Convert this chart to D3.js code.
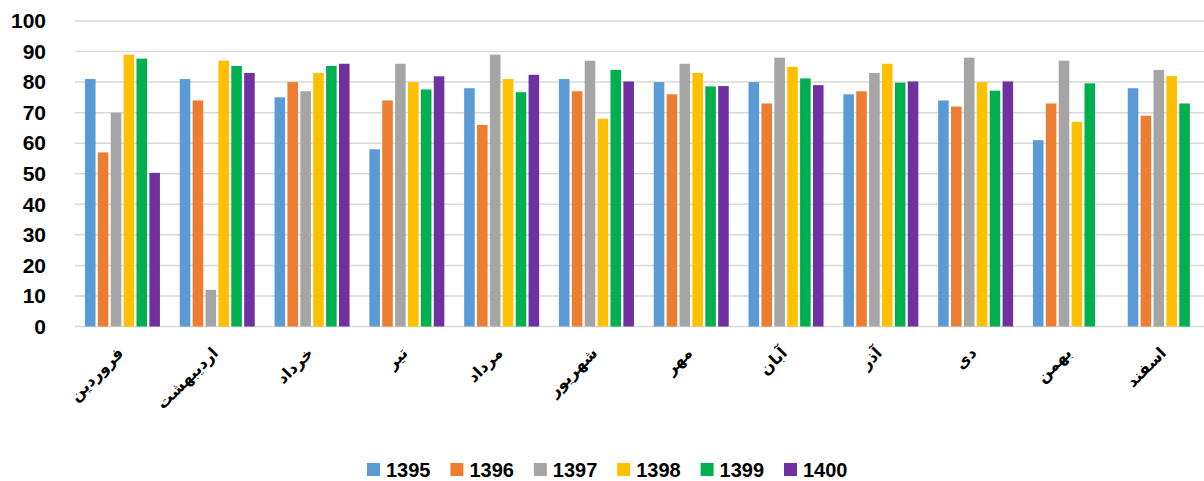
<!DOCTYPE html>
<html><head><meta charset="utf-8">
<script src="https://cdn.jsdelivr.net/npm/d3@7"></script>
<style>body{margin:0;background:#fff}svg{display:block}</style>
</head><body><svg id="c" width="1204" height="481"></svg>
<script>
const months = ["فروردین","اردیبهشت","خرداد","تیر","مرداد","شهریور","مهر","آبان","آذر","دی","بهمن","اسفند"];
const seriesNames = ["1395","1396","1397","1398","1399","1400"];
const colors = ["#5B9BD5","#ED7D31","#A5A5A5","#FFC000","#00B050","#7030A0"];
const v1395 = [81,81,75,58,78,81,80,80,76,74,61,78];
const v1396 = [57,74,80,74,66,77,76,73,77,72,73,69];
const v1397 = [70,12,77,86,89,87,86,88,83,88,87,84];
const v1398 = [89,87,83,80,81,68,83,85,86,80,67,82];
const v1399 = [87.7,85.3,85.3,77.6,76.7,84,78.6,81.2,79.8,77.2,79.6,73];
const v1400 = [50.3,83,86,81.9,82.4,80.2,78.7,79,80.2,80.2,null,null];
const yTicks = [0,10,20,30,40,50,60,70,80,90,100];
const allSeries = [v1395,v1396,v1397,v1398,v1399,v1400];

const svg = d3.select("#c");
const left = 75, step = 94.8;
const x0 = d3.scaleBand().domain(months).range([left, left + step*12.001]).paddingInner(0.209).paddingOuter(0.105);
const x1 = d3.scaleBand().domain(seriesNames).range([0, x0.bandwidth()]).paddingInner(0.18).paddingOuter(0);
const y = d3.scaleLinear().domain([0,100]).range([326.5, 21]);

// gridlines
svg.append("g").selectAll("line").data(yTicks).join("line")
  .attr("x1", left).attr("x2", 1204)
  .attr("y1", d=>y(d)).attr("y2", d=>y(d))
  .attr("stroke", "#D9D9D9").attr("stroke-width", 1.5);

// y labels
const yAxis = d3.axisLeft(y).tickValues(yTicks).tickSize(0).tickPadding(0);
const ga = svg.append("g").attr("transform","translate(46,0)").call(yAxis);
ga.select(".domain").remove();
ga.selectAll("text").attr("font-family","'Liberation Sans', Arial, sans-serif")
  .attr("font-weight","bold").attr("font-size","21px").attr("fill","#000");

// bars
const groups = svg.append("g").selectAll("g").data(months).join("g")
  .attr("transform", d=>`translate(${x0(d)},0)`);
groups.selectAll("rect").data((m,i)=>seriesNames.map((s,j)=>({s, j, v: allSeries[j][i]})).filter(d=>d.v!=null))
  .join("rect")
  .attr("x", d=>x1(d.s)).attr("width", x1.bandwidth())
  .attr("y", d=>y(d.v)).attr("height", d=>y(0)-y(d.v))
  .attr("fill", d=>colors[d.j]);

// x labels
svg.append("g").selectAll("text").data(months).join("text")
  .attr("transform", d=>`translate(${x0(d)+x0.bandwidth()/2+2},${354}) rotate(-45)`)
  .attr("text-anchor","end")
  .attr("font-family","'DejaVu Sans', sans-serif").attr("font-weight","bold").attr("font-size","16px")
  .attr("fill","#000").text(d=>d);

// legend
const lg = svg.append("g").selectAll("g").data(seriesNames).join("g")
  .attr("transform",(d,i)=>`translate(${367 + i*83.4},0)`);
lg.append("rect").attr("x",0).attr("y",463).attr("width",13).attr("height",13).attr("fill",(d,i)=>colors[i]);
lg.append("text").attr("x",19).attr("y",477).text(d=>d)
  .attr("font-family","'Liberation Sans', Arial, sans-serif").attr("font-weight","bold").attr("font-size","20px").attr("fill","#000");
</script></body></html>
